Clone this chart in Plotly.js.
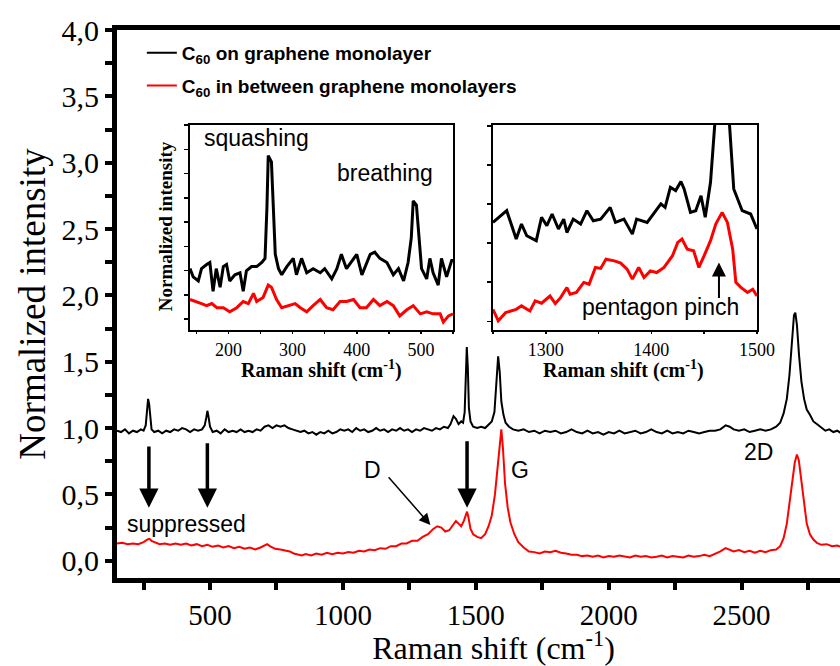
<!DOCTYPE html>
<html>
<head>
<meta charset="utf-8">
<script src="https://cdn.plot.ly/plotly-3.0.1.min.js"></script>
<style>html,body{margin:0;padding:0;overflow:hidden;background:#fff}</style>
</head>
<body>
<div id="chart" style="width:870px;height:666px"></div>
<script>
// ---- main spectrum: C60 on graphene monolayer (black) ----
const mainBlackX = [150,165,180,195,210,225,240,250,258,263,267,271,275,280,290,305,320,335,350,365,380,395,410,425,440,455,470,480,486,490,494,500,510,525,540,555,570,585,600,615,630,645,660,675,690,705,720,735,750,765,780,795,810,825,840,855,870,885,900,915,930,945,960,975,990,1005,1020,1035,1050,1065,1080,1095,1110,1125,1140,1155,1170,1185,1200,1215,1230,1245,1260,1275,1290,1305,1320,1335,1350,1365,1380,1395,1405,1416,1425,1435,1445,1452,1458,1462,1466,1470,1474,1480,1490,1505,1520,1535,1550,1560,1570,1578,1584,1590,1596,1604,1612,1625,1640,1660,1680,1700,1720,1740,1760,1780,1800,1820,1840,1860,1880,1900,1920,1940,1960,1980,2000,2020,2040,2060,2080,2100,2120,2140,2160,2180,2200,2220,2240,2260,2280,2300,2320,2340,2360,2380,2400,2420,2440,2455,2470,2490,2510,2530,2550,2570,2590,2610,2630,2645,2658,2670,2680,2690,2697,2702,2708,2716,2725,2735,2745,2757,2770,2783,2800,2815,2830,2845,2860,2875,2890,2910,2930,2950,2980];
const mainBlackY = [0.98,0.97,0.99,0.96,0.98,0.97,0.99,0.98,1.02,1.12,1.22,1.18,1.06,0.99,0.97,0.98,0.96,0.98,0.97,0.99,0.98,1.00,0.99,0.97,0.99,0.98,0.99,1.02,1.08,1.13,1.09,1.01,0.97,0.98,0.96,0.99,0.97,0.98,0.97,0.99,0.97,0.98,0.97,0.99,0.98,1.01,1.02,1.00,1.02,1.01,1.02,1.00,0.99,0.98,0.97,0.98,0.96,0.97,0.95,0.97,0.96,0.98,0.96,0.97,0.99,0.98,0.99,0.97,1.00,0.98,0.99,0.97,0.98,1.00,0.98,0.99,0.97,0.99,0.98,1.00,0.98,0.99,0.97,0.99,0.98,1.00,0.99,0.98,1.00,0.99,1.01,1.00,1.03,1.09,1.07,1.03,1.05,1.04,1.12,1.35,1.61,1.45,1.15,1.05,1.01,1.00,1.01,1.00,1.03,1.05,1.12,1.35,1.54,1.42,1.20,1.10,1.04,1.01,0.99,0.98,0.99,0.97,0.98,0.96,0.98,0.97,0.98,0.96,0.97,0.99,0.97,0.96,0.98,0.96,0.97,0.95,0.97,0.96,0.98,0.96,0.97,0.98,0.96,0.97,0.99,0.97,0.96,0.98,0.96,0.97,0.96,0.98,0.97,0.96,0.97,0.98,0.98,0.99,1.02,1.01,0.99,0.98,0.99,0.97,0.98,0.99,0.98,0.99,1.01,1.04,1.11,1.22,1.40,1.66,1.85,1.87,1.78,1.55,1.35,1.22,1.14,1.10,1.05,1.03,1.00,0.98,0.99,0.97,0.98,0.96,0.98,0.97,0.98,0.97,0.98];

// ---- main spectrum: C60 in between graphene monolayers (red) ----
const mainRedX = [150,170,190,210,230,250,265,272,280,295,310,330,350,370,390,410,430,450,470,490,510,530,550,570,590,610,630,650,670,690,705,715,725,745,765,785,800,815,830,845,860,880,900,920,940,960,980,1000,1020,1040,1060,1080,1100,1120,1140,1160,1180,1200,1220,1240,1260,1280,1300,1320,1340,1355,1370,1385,1400,1415,1425,1435,1445,1455,1462,1467,1472,1480,1490,1505,1520,1535,1548,1560,1572,1582,1590,1596,1602,1610,1620,1630,1645,1660,1680,1700,1720,1740,1760,1780,1800,1820,1840,1860,1880,1900,1920,1940,1960,1980,2000,2020,2040,2060,2080,2100,2120,2140,2160,2180,2200,2220,2240,2260,2280,2300,2320,2340,2360,2380,2400,2420,2440,2455,2470,2490,2510,2530,2550,2570,2590,2610,2630,2645,2658,2670,2680,2690,2700,2708,2715,2725,2735,2745,2757,2770,2783,2800,2820,2840,2860,2880,2910,2950,2980];
const mainRedY = [0.13,0.135,0.125,0.13,0.125,0.14,0.16,0.165,0.15,0.135,0.125,0.13,0.12,0.13,0.12,0.13,0.115,0.125,0.11,0.12,0.105,0.115,0.10,0.11,0.095,0.105,0.09,0.10,0.085,0.10,0.115,0.125,0.11,0.09,0.085,0.075,0.07,0.055,0.05,0.04,0.05,0.04,0.055,0.045,0.06,0.05,0.06,0.055,0.065,0.06,0.075,0.07,0.085,0.08,0.095,0.09,0.11,0.11,0.13,0.13,0.15,0.15,0.18,0.20,0.24,0.26,0.25,0.22,0.23,0.27,0.30,0.28,0.26,0.30,0.35,0.37,0.33,0.24,0.20,0.18,0.17,0.20,0.26,0.34,0.50,0.72,0.90,0.99,0.85,0.58,0.40,0.29,0.20,0.14,0.10,0.07,0.065,0.055,0.07,0.065,0.075,0.06,0.055,0.045,0.045,0.035,0.04,0.03,0.04,0.025,0.035,0.03,0.04,0.03,0.025,0.04,0.03,0.035,0.025,0.03,0.04,0.025,0.035,0.03,0.025,0.04,0.03,0.035,0.045,0.035,0.05,0.07,0.095,0.08,0.07,0.08,0.065,0.075,0.06,0.075,0.065,0.08,0.085,0.11,0.17,0.28,0.42,0.60,0.74,0.80,0.76,0.60,0.42,0.28,0.20,0.16,0.135,0.12,0.125,0.11,0.115,0.10,0.11,0.10,0.105];

// ---- inset 1 (low frequency modes), arbitrary units ----
const in1BlackX = [140,145,153,158,166,171,176,181,187,192,197,202,210,218,223,228,236,244,252,257,260,262,267,270,273,278,283,291,301,306,314,322,332,343,350,361,369,376,384,400,408,421,428,436,447,457,465,473,480,485,488,493,498,501,509,514,519,527,532,540,548,550];
const in1BlackY = [0.30,0.26,0.24,0.30,0.32,0.33,0.19,0.30,0.21,0.31,0.32,0.24,0.27,0.28,0.19,0.29,0.31,0.31,0.33,0.35,0.60,0.85,0.82,0.60,0.37,0.30,0.27,0.31,0.35,0.27,0.35,0.28,0.30,0.28,0.30,0.25,0.30,0.37,0.30,0.37,0.27,0.37,0.38,0.35,0.33,0.27,0.30,0.24,0.33,0.45,0.63,0.61,0.40,0.30,0.25,0.35,0.28,0.22,0.35,0.26,0.34,0.34];
const in1RedX = [140,150,158,166,174,182,192,202,213,223,231,239,244,254,262,267,275,283,293,304,312,322,332,343,353,363,374,384,395,405,415,426,436,447,457,467,478,488,499,509,519,530,535,543,550];
const in1RedY = [0.15,0.14,0.13,0.12,0.13,0.11,0.11,0.09,0.11,0.14,0.13,0.18,0.14,0.16,0.22,0.21,0.15,0.11,0.12,0.13,0.11,0.09,0.12,0.15,0.11,0.10,0.14,0.14,0.15,0.11,0.11,0.15,0.12,0.14,0.12,0.07,0.10,0.12,0.08,0.09,0.08,0.08,0.04,0.07,0.08];

// ---- inset 2 (pentagon pinch region), arbitrary units ----
const in2BlackX = [1250,1263,1272,1277,1282,1291,1296,1301,1306,1312,1317,1320,1326,1333,1339,1345,1352,1361,1366,1374,1382,1386,1396,1401,1409,1413,1418,1423,1428,1431,1437,1442,1447,1451,1456,1460,1464,1470,1474,1478,1486,1494,1500];
const in2BlackY = [0.525,0.582,0.444,0.517,0.46,0.436,0.55,0.509,0.566,0.493,0.541,0.476,0.541,0.517,0.582,0.533,0.541,0.598,0.525,0.541,0.468,0.541,0.525,0.558,0.615,0.598,0.696,0.68,0.724,0.688,0.574,0.582,0.655,0.55,0.72,1.0,1.4,1.4,1.0,0.688,0.582,0.566,0.493];
const in2RedX = [1250,1255,1262,1268,1272,1277,1285,1290,1296,1304,1309,1314,1320,1323,1329,1336,1341,1347,1352,1357,1365,1371,1377,1382,1388,1393,1399,1405,1412,1420,1425,1429,1434,1440,1445,1450,1456,1461,1467,1472,1477,1480,1485,1491,1496,1500];
const in2RedY = [0.102,0.046,0.086,0.094,0.102,0.119,0.094,0.143,0.132,0.167,0.13,0.159,0.208,0.176,0.184,0.233,0.224,0.306,0.301,0.346,0.338,0.327,0.298,0.249,0.306,0.257,0.289,0.281,0.306,0.363,0.428,0.444,0.395,0.387,0.306,0.363,0.436,0.517,0.574,0.525,0.395,0.233,0.208,0.184,0.2,0.167];

const legendNames = ['<b>C<sub>60</sub> on graphene monolayer</b>', '<b>C<sub>60</sub> in between graphene monolayers</b>'];

const SERIF = 'Liberation Serif, Times New Roman, serif';
const SANS = 'Liberation Sans, Arial, sans-serif';

const traces = [
  {x: mainBlackX, y: mainBlackY, type: 'scatter', mode: 'lines', name: legendNames[0], legendgroup: 'a', line: {color: '#000000', width: 2}, xaxis: 'x', yaxis: 'y'},
  {x: mainRedX, y: mainRedY, type: 'scatter', mode: 'lines', name: legendNames[1], legendgroup: 'b', line: {color: '#ff0000', width: 2}, xaxis: 'x', yaxis: 'y'},
  {x: in1BlackX, y: in1BlackY, type: 'scatter', mode: 'lines', showlegend: false, line: {color: '#000000', width: 3}, xaxis: 'x2', yaxis: 'y2'},
  {x: in1RedX, y: in1RedY, type: 'scatter', mode: 'lines', showlegend: false, line: {color: '#ff0000', width: 3}, xaxis: 'x2', yaxis: 'y2'},
  {x: in2BlackX, y: in2BlackY, type: 'scatter', mode: 'lines', showlegend: false, line: {color: '#000000', width: 3}, xaxis: 'x3', yaxis: 'y3'},
  {x: in2RedX, y: in2RedY, type: 'scatter', mode: 'lines', showlegend: false, line: {color: '#ff0000', width: 3}, xaxis: 'x3', yaxis: 'y3'}
];

const insetAxis = {
  showline: true, linewidth: 2, linecolor: '#000', mirror: true, showgrid: false, zeroline: false,
  ticks: 'outside', ticklen: 4, tickwidth: 1.5, tickcolor: '#000'
};

const layout = {
  width: 870, height: 666,
  margin: {l: 117, r: 0, t: 30, b: 88},
  paper_bgcolor: '#fff', plot_bgcolor: '#fff',
  separators: ',.',
  showlegend: true,
  legend: {x: 0.033, y: 0.993, xanchor: 'left', yanchor: 'top', bgcolor: 'rgba(0,0,0,0)',
           traceorder: 'grouped', tracegroupgap: 5,
           font: {family: SANS, size: 19, color: '#000'}},
  xaxis: {
    domain: [0, 1], range: [150, 2983], showline: true, linewidth: 5, linecolor: '#000', mirror: true,
    showgrid: false, zeroline: false, ticks: 'outside', ticklen: 7, tickwidth: 4, tickcolor: '#000',
    tick0: 0, dtick: 500,
    minor: {dtick: 250, ticks: 'outside', ticklen: 7, tickwidth: 4, tickcolor: '#000'},
    tickfont: {family: SERIF, size: 29, color: '#000'},
    title: {text: 'Raman shift (cm<sup>-1</sup>)', font: {family: SERIF, size: 32, color: '#000'}, standoff: 15}
  },
  yaxis: {
    domain: [0, 1], range: [-0.13, 4.0], showline: true, linewidth: 5, linecolor: '#000', mirror: true,
    showgrid: false, zeroline: false, ticks: 'outside', ticklen: 7, tickwidth: 4, tickcolor: '#000',
    tick0: 0, dtick: 0.5, tickformat: '.1f',
    minor: {dtick: 0.25, ticks: 'outside', ticklen: 7, tickwidth: 4, tickcolor: '#000'},
    tickfont: {family: SERIF, size: 30, color: '#000'},
    title: {text: 'Normalized intensity', font: {family: SERIF, size: 37, color: '#000'}, standoff: 6}
  },
  xaxis2: Object.assign({}, insetAxis, {
    domain: [0.0969, 0.4462], anchor: 'y2', range: [140, 550], tick0: 0, dtick: 100, ticklen: 2,
    minor: {dtick: 50, ticks: 'outside', ticklen: 2, tickwidth: 1.5, tickcolor: '#000'},
    tickfont: {family: SERIF, size: 18, color: '#000'}
  }),
  yaxis2: Object.assign({}, insetAxis, {
    domain: [0.452, 0.827], anchor: 'x2', range: [0, 1], showticklabels: false, tick0: 0.054, dtick: 0.118
  }),
  xaxis3: Object.assign({}, insetAxis, {
    domain: [0.4993, 0.8499], anchor: 'y3', range: [1250, 1500], tick0: 0, dtick: 100, ticklen: 2,
    minor: {dtick: 50, ticks: 'outside', ticklen: 2, tickwidth: 1.5, tickcolor: '#000'},
    tickfont: {family: SERIF, size: 18, color: '#000'}
  }),
  yaxis3: Object.assign({}, insetAxis, {
    domain: [0.452, 0.827], anchor: 'x3', range: [0, 1], showticklabels: false, tick0: 0.044, dtick: 0.19
  }),
  annotations: [
    // inset titles
    {xref: 'paper', yref: 'paper', x: 0.0637, y: 0.642, xanchor: 'center', yanchor: 'middle',
     text: '<b>Normalized intensity</b>', textangle: -90,
     showarrow: false, font: {family: SERIF, size: 19, color: '#000'}},
    {xref: 'paper', yref: 'paper', x: 0.271, y: 0.38, xanchor: 'center', yanchor: 'middle',
     text: '<b>Raman shift (cm<sup>-1</sup>)</b>',
     showarrow: false, font: {family: SERIF, size: 20, color: '#000'}},
    {xref: 'paper', yref: 'paper', x: 0.673, y: 0.38, xanchor: 'center', yanchor: 'middle',
     text: '<b>Raman shift (cm<sup>-1</sup>)</b>',
     showarrow: false, font: {family: SERIF, size: 20, color: '#000'}},
    // inset labels
    {xref: 'x2', yref: 'y2', x: 244, y: 0.937, text: 'squashing', showarrow: false, font: {family: SANS, size: 23, color: '#000'}},
    {xref: 'x2', yref: 'y2', x: 444, y: 0.766, text: 'breathing', showarrow: false, font: {family: SANS, size: 23, color: '#000'}},
    {xref: 'x3', yref: 'y3', x: 1409, y: 0.112, text: 'pentagon pinch', showarrow: false, font: {family: SANS, size: 23, color: '#000'}},
    {xref: 'x3', yref: 'y3', x: 1464, y: 0.33, axref: 'x3', ayref: 'y3', ax: 1464, ay: 0.15, text: '',
     showarrow: true, arrowhead: 2, arrowsize: 1.4, arrowwidth: 2, arrowcolor: '#000'},
    // main labels
    {xref: 'x', yref: 'y', x: 412, y: 0.28, text: 'suppressed', showarrow: false, font: {family: SANS, size: 23, color: '#000'}},
    {xref: 'x', yref: 'y', x: 1111, y: 0.685, text: 'D', showarrow: false, font: {family: SANS, size: 23, color: '#000'}},
    {xref: 'x', yref: 'y', x: 1667, y: 0.685, text: 'G', showarrow: false, font: {family: SANS, size: 23, color: '#000'}},
    {xref: 'x', yref: 'y', x: 2562, y: 0.82, text: '2D', showarrow: false, font: {family: SANS, size: 23, color: '#000'}},
    // arrows
    {xref: 'x', yref: 'y', x: 270, y: 0.40, axref: 'x', ayref: 'y', ax: 270, ay: 0.873, text: '',
     showarrow: true, arrowhead: 2, arrowsize: 1.1, arrowwidth: 3.5, arrowcolor: '#000'},
    {xref: 'x', yref: 'y', x: 490, y: 0.40, axref: 'x', ayref: 'y', ax: 490, ay: 0.896, text: '',
     showarrow: true, arrowhead: 2, arrowsize: 1.1, arrowwidth: 3.5, arrowcolor: '#000'},
    {xref: 'x', yref: 'y', x: 1467, y: 0.40, axref: 'x', ayref: 'y', ax: 1467, ay: 0.911, text: '',
     showarrow: true, arrowhead: 2, arrowsize: 1.1, arrowwidth: 3.5, arrowcolor: '#000'},
    {xref: 'x', yref: 'y', x: 1329, y: 0.27, axref: 'x', ayref: 'y', ax: 1167, ay: 0.64, text: '',
     showarrow: true, arrowhead: 2, arrowsize: 1.5, arrowwidth: 1.5, arrowcolor: '#000'}
  ]
};

Plotly.newPlot('chart', traces, layout, {displayModeBar: false, staticPlot: true});
</script>
</body>
</html>
